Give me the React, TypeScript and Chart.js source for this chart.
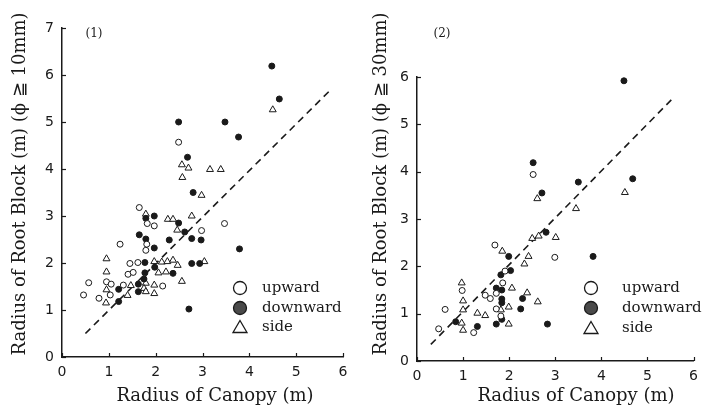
import React, { useEffect, useRef } from "react";
import { Chart, registerables } from "chart.js";

Chart.register(...registerables);

// ---------- Data (panel 1: φ ≥ 10mm) ----------
const upward1X = [0.46, 0.57, 0.79, 0.95, 1.05, 1.03, 1.24, 1.31, 1.41, 1.52, 1.45, 1.62, 1.65, 1.82, 1.97, 1.81, 1.79, 2.15, 2.49, 2.98, 3.47];
const upward1Y = [1.32, 1.58, 1.25, 1.60, 1.55, 1.32, 2.40, 1.53, 1.76, 1.80, 1.99, 2.01, 3.18, 2.84, 2.79, 2.40, 2.27, 1.51, 4.57, 2.69, 2.84];

const downward1X = [1.21, 1.21, 1.63, 1.63, 1.77, 1.77, 1.75, 1.65, 1.79, 1.79, 1.97, 1.97, 1.98, 2.29, 2.37, 2.49, 2.62, 2.77, 2.97, 2.77, 2.94, 2.71, 3.79, 2.80, 2.68, 2.49, 3.48, 3.77, 4.48, 4.64];
const downward1Y = [1.44, 1.18, 1.55, 1.39, 2.01, 1.79, 1.66, 2.60, 2.51, 2.95, 3.00, 2.32, 1.91, 2.49, 1.78, 2.85, 2.66, 2.52, 2.49, 1.99, 1.99, 1.02, 2.30, 3.50, 4.25, 5.00, 5.00, 4.68, 6.19, 5.49];

const side1X = [0.95, 0.95, 0.95, 0.94, 1.40, 1.47, 1.79, 1.79, 1.75, 1.79, 1.97, 1.97, 1.97, 2.13, 2.25, 2.37, 2.47, 2.06, 2.22, 2.56, 3.04, 2.26, 2.37, 2.46, 2.77, 2.98, 2.57, 2.56, 2.70, 3.16, 3.39, 4.50];
const side1Y = [2.09, 1.81, 1.43, 1.15, 1.31, 1.52, 3.04, 1.57, 1.46, 1.39, 1.53, 1.35, 2.03, 2.02, 2.03, 2.06, 1.95, 1.79, 1.81, 1.61, 2.03, 2.93, 2.93, 2.70, 3.00, 3.44, 3.82, 4.09, 4.02, 3.99, 3.99, 5.26];

const fit1X = [0.5, 5.75];
const fit1Y = [0.5, 5.7];

// ---------- Data (panel 2: φ ≥ 30mm) ----------
const upward2X = [0.47, 0.61, 0.98, 1.23, 1.48, 1.59, 1.72, 1.72, 1.82, 1.86, 1.91, 1.69, 2.99, 2.52];
const upward2Y = [0.68, 1.09, 1.49, 0.60, 1.39, 1.32, 1.43, 1.10, 0.95, 1.65, 1.90, 2.45, 2.19, 3.94];

const downward2X = [0.84, 1.31, 1.72, 1.84, 1.84, 1.84, 1.72, 1.84, 1.82, 2.03, 1.99, 2.29, 2.25, 2.83, 2.80, 3.82, 2.71, 3.50, 4.68, 2.52, 4.49];
const downward2Y = [0.83, 0.73, 0.78, 0.88, 1.23, 1.31, 1.54, 1.50, 1.82, 1.91, 2.21, 1.32, 1.10, 0.78, 2.72, 2.21, 3.55, 3.78, 3.85, 4.19, 5.92];

const side2X = [0.97, 1.00, 1.00, 0.97, 1.00, 1.31, 1.48, 1.82, 1.99, 1.99, 2.06, 1.85, 2.33, 2.42, 2.39, 2.62, 2.50, 2.64, 3.01, 2.61, 3.45, 4.51];
const side2Y = [1.65, 1.27, 1.08, 0.80, 0.65, 1.01, 0.96, 1.08, 1.14, 0.78, 1.54, 2.32, 2.05, 2.21, 1.44, 1.25, 2.59, 2.64, 2.61, 3.43, 3.22, 3.56];

const fit2X = [0.3, 5.55];
const fit2Y = [0.35, 5.55];

const seriesLabels = ["upward", "downward", "side"];
const xTicks = [0, 1, 2, 3, 4, 5, 6];

const xTitle = "Radius of Canopy (m)";
const yTitle1 = "Radius of Root Block (m) (ϕ ≧ 10mm)";
const yTitle2 = "Radius of Root Block (m) (ϕ ≧ 30mm)";

const zip = (xs: number[], ys: number[]) => xs.map((x, i) => ({ x, y: ys[i] }));

const INK = "#1a1a1a";

type PanelCfg = {
  width: number;
  yMax: number;
  up: { x: number; y: number }[];
  down: { x: number; y: number }[];
  side: { x: number; y: number }[];
  fit: { x: number; y: number }[];
  yTitle: string;
  panel: string;
  geo: {
    yAxisW: number;
    xAxisH: number;
    padTop: number;
    padRight: number;
    yTitleX: number;
    yTitleY: number;
    xTitleX: number;
    xTitleY: number;
    panelX: number;
    panelY: number;
    legMarkX: number;
    legTextX: number;
    legY: number[];
  };
};

function makeChart(canvas: HTMLCanvasElement, p: PanelCfg) {
  const g = p.geo;
  const decor = {
    id: "decor",
    afterDraw(chart: any) {
      const ctx = chart.ctx as CanvasRenderingContext2D;
      const xs = chart.scales.x;
      const ys = chart.scales.y;
      const area = chart.chartArea;
      ctx.save();
      // inward tick marks
      ctx.strokeStyle = INK;
      ctx.lineWidth = 1.2;
      xs.ticks.forEach((t: any) => {
        const px = Math.round(xs.getPixelForValue(t.value)) + 0.5;
        ctx.beginPath();
        ctx.moveTo(px, area.bottom);
        ctx.lineTo(px, area.bottom - 4);
        ctx.stroke();
      });
      ys.ticks.forEach((t: any) => {
        const py = Math.round(ys.getPixelForValue(t.value)) + 0.5;
        ctx.beginPath();
        ctx.moveTo(area.left, py);
        ctx.lineTo(area.left + 4, py);
        ctx.stroke();
      });
      // titles
      ctx.fillStyle = INK;
      ctx.font = '18px "DejaVu Serif"';
      ctx.textAlign = "center";
      ctx.textBaseline = "middle";
      ctx.fillText(xTitle, g.xTitleX, g.xTitleY);
      ctx.save();
      ctx.translate(g.yTitleX, g.yTitleY);
      ctx.rotate(-Math.PI / 2);
      ctx.fillText(p.yTitle, 0, 0);
      ctx.restore();
      // panel label
      ctx.font = '12px "DejaVu Serif"';
      ctx.fillText(p.panel, g.panelX, g.panelY);
      // legend
      ctx.font = '15px "DejaVu Serif"';
      ctx.textAlign = "left";
      seriesLabels.forEach((lab, i) => {
        const cy = g.legY[i];
        const cx = g.legMarkX;
        ctx.lineWidth = 1.3;
        ctx.strokeStyle = INK;
        ctx.beginPath();
        if (i === 2) {
          ctx.moveTo(cx, cy - 6.5);
          ctx.lineTo(cx + 7, cy + 5.5);
          ctx.lineTo(cx - 7, cy + 5.5);
          ctx.closePath();
          ctx.fillStyle = "#fff";
        } else {
          ctx.arc(cx, cy, 6.5, 0, Math.PI * 2);
          ctx.fillStyle = i === 0 ? "#fff" : "#4a4a4a";
        }
        ctx.fill();
        ctx.stroke();
        ctx.fillStyle = INK;
        ctx.fillText(lab, g.legTextX, cy);
      });
      ctx.restore();
    },
  };

  return new Chart(canvas, {
    type: "scatter",
    data: {
      datasets: [
        {
          label: seriesLabels[0],
          data: p.up,
          pointStyle: "circle",
          pointRadius: 3,
          backgroundColor: "#fff",
          borderColor: INK,
          borderWidth: 1,
        },
        {
          label: seriesLabels[1],
          data: p.down,
          pointStyle: "circle",
          pointRadius: 3,
          backgroundColor: INK,
          borderColor: INK,
          borderWidth: 1,
        },
        {
          label: seriesLabels[2],
          data: p.side,
          pointStyle: "triangle",
          pointRadius: 4,
          backgroundColor: "#fff",
          borderColor: INK,
          borderWidth: 1,
        },
        {
          type: "line",
          label: "fit",
          data: p.fit,
          borderColor: INK,
          borderWidth: 1.6,
          borderDash: [7, 5],
          pointRadius: 0,
          fill: false,
        } as any,
      ],
    },
    options: {
      responsive: false,
      animation: false,
      devicePixelRatio: 1,
      layout: { padding: { left: 0, right: g.padRight, top: g.padTop, bottom: 0 } },
      plugins: { legend: { display: false }, tooltip: { enabled: false } },
      scales: {
        x: {
          type: "linear",
          min: 0,
          max: 6,
          afterBuildTicks: (s: any) => {
            s.ticks = xTicks.map((v) => ({ value: v }));
          },
          afterFit: (s: any) => {
            s.height = g.xAxisH;
          },
          grid: { display: false, drawTicks: false },
          border: { display: true, color: INK, width: 1.5 },
          ticks: { padding: 7, color: INK, font: { family: "DejaVu Sans", size: 14 }, maxRotation: 0 },
        },
        y: {
          type: "linear",
          min: 0,
          max: p.yMax,
          ticks: { stepSize: 1, padding: 8, color: INK, font: { family: "DejaVu Sans", size: 14 } },
          afterFit: (s: any) => {
            s.width = g.yAxisW;
          },
          grid: { display: false, drawTicks: false },
          border: { display: true, color: INK, width: 1.5 },
        },
      },
    } as any,
    plugins: [decor],
  });
}

const panel1: PanelCfg = {
  width: 360,
  yMax: 7,
  up: zip(upward1X, upward1Y),
  down: zip(downward1X, downward1Y),
  side: zip(side1X, side1Y),
  fit: zip(fit1X, fit1Y),
  yTitle: yTitle1,
  panel: "(1)",
  geo: {
    yAxisW: 62,
    xAxisH: 50,
    padTop: 28,
    padRight: 17,
    yTitleX: 20,
    yTitleY: 184,
    xTitleX: 215,
    xTitleY: 396,
    panelX: 94,
    panelY: 34,
    legMarkX: 240,
    legTextX: 262,
    legY: [288, 308, 327],
  },
};

const panel2: PanelCfg = {
  width: 345,
  yMax: 6,
  up: zip(upward2X, upward2Y),
  down: zip(downward2X, downward2Y),
  side: zip(side2X, side2Y),
  fit: zip(fit2X, fit2Y),
  yTitle: yTitle2,
  panel: "(2)",
  geo: {
    yAxisW: 57,
    xAxisH: 46,
    padTop: 77,
    padRight: 5,
    yTitleX: 21,
    yTitleY: 184,
    xTitleX: 216,
    xTitleY: 396,
    panelX: 82,
    panelY: 34,
    legMarkX: 231,
    legTextX: 262,
    legY: [288, 308, 328],
  },
};

function Panel({ cfg, left }: { cfg: PanelCfg; left: number }) {
  const ref = useRef<HTMLCanvasElement | null>(null);
  useEffect(() => {
    if (!ref.current) return;
    const c = makeChart(ref.current, cfg);
    return () => c.destroy();
  }, [cfg]);
  return (
    <canvas
      ref={ref}
      width={cfg.width}
      height={407}
      style={{ position: "absolute", left, top: 0, width: cfg.width, height: 407, display: "block" }}
    />
  );
}

export default function App() {
  return (
    <div style={{ position: "absolute", left: 0, top: 0, width: 705, height: 407, background: "#fff", overflow: "hidden" }}>
      <Panel cfg={panel1} left={0} />
      <Panel cfg={panel2} left={360} />
    </div>
  );
}
